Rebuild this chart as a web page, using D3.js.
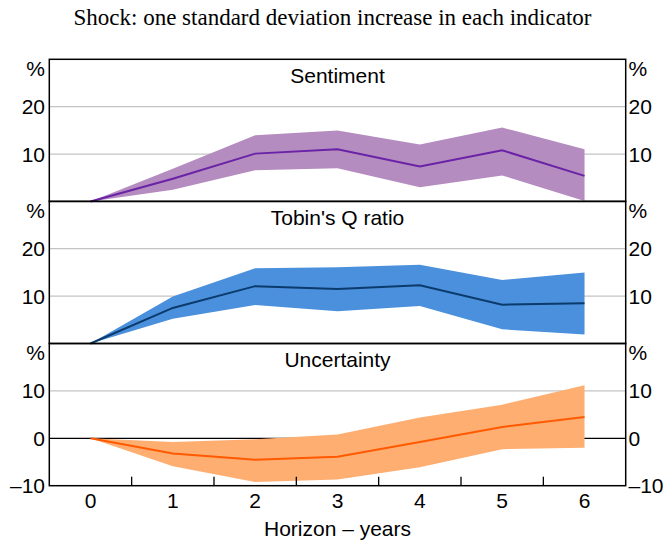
<!DOCTYPE html>
<html><head><meta charset="utf-8">
<script src="https://cdn.jsdelivr.net/npm/d3@7"></script>
<style>body{margin:0;background:#fff}svg{display:block}</style>
</head><body>
<script>
const horizon = [0, 1, 2, 3, 4, 5, 6];
const xTicks = [0, 1, 2, 3, 4, 5, 6];
const title = "Shock: one standard deviation increase in each indicator";
const xLabel = "Horizon – years";

const panelNames = ["Sentiment", "Tobin's Q ratio", "Uncertainty"];
const sentimentMid = [0, 4.8, 10.1, 11.0, 7.4, 10.8, 5.4];
const sentimentHi  = [0, 6.9, 14.0, 15.0, 12.0, 15.6, 11.0];
const sentimentLo  = [0, 2.5, 6.6, 7.0, 3.0, 5.5, 0.1];
const tobinMid = [0, 7.5, 12.1, 11.5, 12.3, 8.2, 8.5];
const tobinHi  = [0, 9.9, 15.9, 16.1, 16.6, 13.4, 15.0];
const tobinLo  = [0, 5.2, 8.1, 6.8, 7.9, 3.0, 1.9];
const uncMid = [0, -3.2, -4.5, -3.9, -0.8, 2.4, 4.5];
const uncHi  = [0, -0.8, -0.2, 0.8, 4.4, 7.1, 11.2];
const uncLo  = [0, -5.9, -9.2, -8.7, -6.1, -2.3, -2.0];
const yDomains = [[0, 30], [0, 30], [-10, 20]];
const yTickVals = [[10, 20], [10, 20], [-10, 0, 10]];

const W = 664, H = 542;
const left = 49.3, right = 625.7;
const panelTops = [59.3, 201.3, 343.5];
const panelH = 142.2;
const colors = [
  {band: "#b48cbf", line: "#6a22a6"},
  {band: "#4a90dc", line: "#0b3a6c"},
  {band: "#ffae72", line: "#ff5a00"}
];
const series = [
  [sentimentMid, sentimentHi, sentimentLo],
  [tobinMid, tobinHi, tobinLo],
  [uncMid, uncHi, uncLo]
];
const font = "Arial, 'Liberation Sans', sans-serif";
const fs = 21;

const svg = d3.select("body").append("svg").attr("width", W).attr("height", H);
const x = d3.scaleLinear().domain([-0.5, 6.5]).range([left, right]);

svg.append("text").attr("x", 332.5).attr("y", 25).attr("text-anchor", "middle")
  .attr("font-family", "'Liberation Serif', 'Times New Roman', serif").attr("font-size", 23)
  .attr("fill", "#000").text(title);

const fmt = v => v < 0 ? "\u2013" + Math.abs(v) : String(v);

panelTops.forEach((top, i) => {
  const y = d3.scaleLinear().domain(yDomains[i]).range([top + panelH, top]);
  const g = svg.append("g");
  yTickVals[i].forEach(v => {
    if (v === yDomains[i][0]) return;
    g.append("line").attr("x1", left).attr("x2", right).attr("y1", y(v)).attr("y2", y(v))
      .attr("stroke", v === 0 ? "#000" : "#c4c4c4").attr("stroke-width", 1.3);
  });
  const [mid, hi, lo] = series[i];
  const pts = horizon.map((h, k) => ({h, mid: mid[k], hi: hi[k], lo: lo[k]}));
  g.append("path").datum(pts)
    .attr("d", d3.area().x(d => x(d.h)).y0(d => y(d.lo)).y1(d => y(d.hi)))
    .attr("fill", colors[i].band);
  g.append("path").datum(pts)
    .attr("d", d3.line().x(d => x(d.h)).y(d => y(d.mid)))
    .attr("fill", "none").attr("stroke", colors[i].line).attr("stroke-width", 2);
  const labs = yTickVals[i].map(v => ({v, t: fmt(v)}));
  labs.push({v: yDomains[i][1], t: "%"});
  labs.forEach(l => {
    const yy = l.t === "%" ? top + 16.5 : y(l.v) + 7.5;
    g.append("text").attr("x", 45).attr("y", yy).attr("text-anchor", "end")
      .attr("font-family", font).attr("font-size", fs).attr("fill", "#000").text(l.t);
    g.append("text").attr("x", 628.5).attr("y", yy).attr("text-anchor", "start")
      .attr("font-family", font).attr("font-size", fs).attr("fill", "#000").text(l.t);
  });
  g.append("text").attr("x", (left + right) / 2).attr("y", top + 23.5).attr("text-anchor", "middle")
    .attr("font-family", font).attr("font-size", fs).attr("fill", "#000").text(panelNames[i]);
  g.append("rect").attr("x", left).attr("y", top).attr("width", right - left).attr("height", panelH)
    .attr("fill", "none").attr("stroke", "#000").attr("stroke-width", 1.5);
  if (i === 2) {
    const minor = d3.range(0.5, 6, 1);
    minor.forEach(m => {
      g.append("line").attr("x1", x(m)).attr("x2", x(m)).attr("y1", top + panelH).attr("y2", top + panelH - 9)
        .attr("stroke", "#000").attr("stroke-width", 1.3);
    });
    xTicks.forEach(t => {
      g.append("text").attr("x", x(t)).attr("y", top + panelH + 22.5).attr("text-anchor", "middle")
        .attr("font-family", font).attr("font-size", fs).attr("fill", "#000").text(t);
    });
  }
});
svg.append("text").attr("x", (left + right) / 2).attr("y", 536).attr("text-anchor", "middle")
  .attr("font-family", font).attr("font-size", fs).attr("fill", "#000").text(xLabel);
</script>
</body></html>
